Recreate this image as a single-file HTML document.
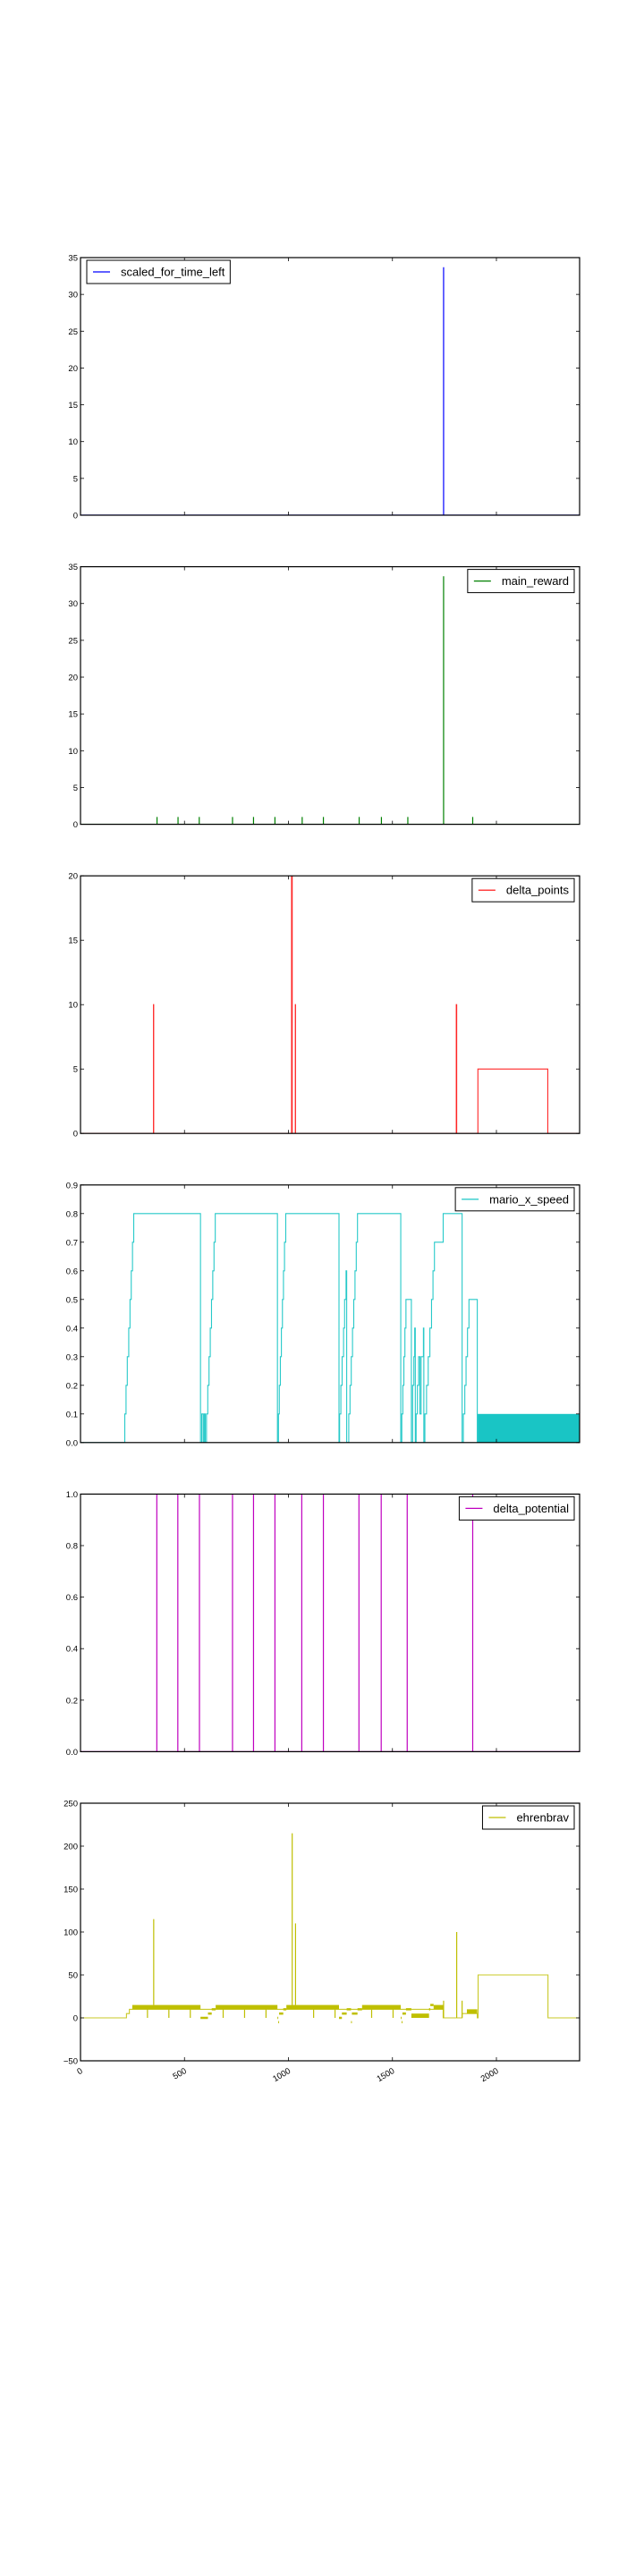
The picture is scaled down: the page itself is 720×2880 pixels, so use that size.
<!DOCTYPE html>
<html><head><meta charset="utf-8">
<style>
html,body{margin:0;padding:0;background:#fff;}
svg{display:block;font-family:"Liberation Sans","DejaVu Sans",sans-serif;}
</style></head>
<body>
<svg id="fig" width="720" height="2880" viewBox="0 0 720 2880" xmlns="http://www.w3.org/2000/svg"></svg>
<script>
// ---- data ----
const xMax = 2400;
const xTicks = [0, 500, 1000, 1500, 2000];
const xTickLabels = ["0", "500", "1000", "1500", "2000"];

const timeLeftSpikeX = [1746];
const timeLeftSpikeY = [33.7];

const rewardSpikeX = [368, 469, 571, 731, 832, 935, 1066, 1168, 1340, 1447, 1574, 1746, 1886];
const rewardSpikeY = [1, 1, 1, 1, 1, 1, 1, 1, 1, 1, 1, 33.7, 1];

// step-post series: value holds from x until next x
const pointsStepX = [0, 351, 352, 1015, 1018, 1033, 1034, 1807, 1809, 1911, 2247, 2400];
const pointsStepY = [0, 10, 0, 20, 0, 10, 0, 10, 0, 5, 0, 0];

const speedStepX = [0,213,219,225,232,238,244,250,256,577,583,590,595,600,606,612,618,624,630,636,642,648,947,952,956,961,966,971,976,981,987,1243,1246,1252,1258,1265,1270,1277,1280,1290,1296,1302,1308,1314,1320,1326,1332,1338,1540,1545,1550,1555,1560,1565,1591,1597,1603,1607,1610,1614,1620,1626,1632,1638,1649,1651,1656,1664,1672,1680,1688,1695,1702,1744,1835,1841,1848,1854,1861,1868,1908];
const speedStepY = [0,0.1,0.2,0.3,0.4,0.5,0.6,0.7,0.8,0,0.1,0,0.1,0,0.1,0.2,0.3,0.4,0.5,0.6,0.7,0.8,0,0.1,0.2,0.3,0.4,0.5,0.6,0.7,0.8,0,0.1,0.2,0.3,0.4,0.5,0.6,0,0.1,0.2,0.3,0.4,0.5,0.6,0.7,0.8,0.8,0,0.1,0.2,0.3,0.4,0.5,0,0.2,0.3,0.4,0,0.1,0.2,0.3,0.1,0.3,0.4,0,0.1,0.2,0.3,0.4,0.5,0.6,0.7,0.8,0,0.1,0.2,0.3,0.4,0.5,0];
const speedOscStart = [1910];
const speedOscEnd = [2398];
const speedOscValue = [0.1];

const potentialSpikeX = [367, 468, 572, 731, 832, 935, 1064, 1168, 1339, 1446, 1571, 1886];
const potentialSpikeY = [1, 1, 1, 1, 1, 1, 1, 1, 1, 1, 1, 1];

const ehrenStepX = [0, 221, 235, 249, 1744, 1835, 1908, 1912, 2248, 2400];
const ehrenStepY = [0, 5, 10, 10, 0, 5, 0, 50, 0, 0];
const bandStart = [249, 650, 990, 1354, 1698, 1858, 1591];
const bandEnd = [577, 947, 1243, 1540, 1744, 1908, 1676];
const bandLo = [10, 10, 10, 10, 10, 5, 0];
const bandHi = [15, 15, 15, 15, 15, 10, 5];
const lowStepX = [577, 613, 631, 947, 951, 955, 975, 1243, 1257, 1280, 1301, 1305, 1332, 1540, 1544, 1548, 1565, 1676, 1682];
const lowStepEnd = [613, 631, 650, 951, 955, 975, 990, 1257, 1280, 1301, 1305, 1332, 1354, 1544, 1548, 1565, 1591, 1682, 1698];
const lowStepY = [0, 5, 10, 0, -5, 5, 10, 0, 5, 10, -5, 5, 10, 0, -5, 5, 10, 10, 15];
const ehrenSpikeX = [352, 1018, 1034, 1746, 1809, 1835, 322, 425, 528, 686, 789, 892, 1121, 1224, 1400, 1503];
const ehrenSpikeY = [115, 215, 110, 20, 100, 20, 0, 0, 0, 0, 0, 0, 0, 0, 0, 0];
const ehrenSpikeBase = [15, 15, 15, 0, 0, 0, 10, 10, 10, 10, 10, 10, 10, 10, 10, 10];

const panelNames = ["scaled_for_time_left", "main_reward", "delta_points", "mario_x_speed", "delta_potential", "ehrenbrav"];
const panelYMin = [0, 0, 0, 0, 0, -50];
const panelYMax = [35, 35, 20, 0.9, 1.0, 250];
const panelYTicks = [
  [0,5,10,15,20,25,30,35],
  [0,5,10,15,20,25,30,35],
  [0,5,10,15,20],
  [0,0.1,0.2,0.3,0.4,0.5,0.6,0.7,0.8,0.9],
  [0,0.2,0.4,0.6,0.8,1.0],
  [-50,0,50,100,150,200,250]
];
const panelTickDigits = [0,0,0,1,1,0];
const panelColors = ["#0000ff", "#008000", "#ff0000", "#00bfbf", "#bf00bf", "#bfbf00"];
const panelLegendLeft = [true, false, false, false, false, false];

// ---- layout ----
const NS = "http://www.w3.org/2000/svg";
const svg = document.getElementById("fig");
const L = 90, R = 648, H = 288, TOP0 = 288, STEP = 345.6;

function mk(tag, attrs, parent) {
  const e = document.createElementNS(NS, tag);
  for (const k in attrs) e.setAttribute(k, attrs[k]);
  (parent || svg).appendChild(e);
  return e;
}
function xs(v) { return L + v / xMax * (R - L); }

for (let p = 0; p < 6; p++) {
  const top = TOP0 + p * STEP, bot = top + H;
  const ymin = panelYMin[p], ymax = panelYMax[p];
  const ys = v => bot - (v - ymin) / (ymax - ymin) * H;
  const col = panelColors[p];
  const g = mk("g", {});
  
  
  const clipId = "clip" + p;
  const cp = mk("clipPath", {id: clipId}, g);
  mk("rect", {x: L, y: top, width: R - L, height: H}, cp);
  const plot = mk("g", {"clip-path": "url(#" + clipId + ")"}, g);
  
  

  function spikes(xsArr, ysArr, base) {
    for (let i = 0; i < xsArr.length; i++) {
      const b = base ? base[i] : 0;
      const ln = mk("line", {x1: xs(xsArr[i]), x2: xs(xsArr[i]), y1: ys(b), y2: ys(ysArr[i]), stroke: col, "stroke-width": 1.2}, plot);
      
      
    }
  }
  function baseline() {
    const ln = mk("line", {x1: L, x2: R, y1: ys(0), y2: ys(0), stroke: col, "stroke-width": 1.5, opacity: 0.6}, plot);
    
    
  }
  function stepLine(xa, ya) {
    let pts = [];
    for (let i = 0; i < xa.length; i++) {
      const nx = i + 1 < xa.length ? xa[i + 1] : xMax;
      pts.push(xs(xa[i]).toFixed(2) + "," + ys(ya[i]).toFixed(2));
      pts.push(xs(nx).toFixed(2) + "," + ys(ya[i]).toFixed(2));
    }
    const pl = mk("polyline", {points: pts.join(" "), fill: "none", stroke: col, "stroke-width": 1.1, opacity: 0.85}, plot);
    
    
  }

  if (p === 0) { baseline(); spikes(timeLeftSpikeX, timeLeftSpikeY); }
  if (p === 1) { baseline(); spikes(rewardSpikeX, rewardSpikeY); }
  if (p === 2) { stepLine(pointsStepX, pointsStepY); }
  if (p === 3) {
    stepLine(speedStepX, speedStepY);
    for (let i = 0; i < speedOscStart.length; i++) {
      const r = mk("rect", {x: xs(speedOscStart[i]), y: ys(speedOscValue[i]), width: xs(speedOscEnd[i]) - xs(speedOscStart[i]), height: ys(0) - ys(speedOscValue[i]), fill: col, opacity: 0.9}, plot);
      
      
    }
  }
  if (p === 4) { baseline(); spikes(potentialSpikeX, potentialSpikeY); }
  if (p === 5) {
    stepLine(ehrenStepX, ehrenStepY);
    for (let i = 0; i < bandStart.length; i++) {
      const r = mk("rect", {x: xs(bandStart[i]), y: ys(bandHi[i]), width: xs(bandEnd[i]) - xs(bandStart[i]), height: ys(bandLo[i]) - ys(bandHi[i]), fill: col}, plot);
      
      
    }
    for (let i = 0; i < lowStepX.length; i++) {
      const ln = mk("line", {x1: xs(lowStepX[i]), x2: xs(lowStepEnd[i]), y1: ys(lowStepY[i]), y2: ys(lowStepY[i]), stroke: col, "stroke-width": 2.5}, plot);
      
      
    }
    spikes(ehrenSpikeX, ehrenSpikeY, ehrenSpikeBase);
  }

  const fr = mk("rect", {x: L, y: top, width: R - L, height: H, fill: "none", stroke: "#000", "stroke-width": 1.2}, g);
  
  

  for (let i = 0; i < xTicks.length; i++) {
    const x = xs(xTicks[i]);
    mk("line", {x1: x, x2: x, y1: bot, y2: bot - 4, stroke: "#000", "stroke-width": 0.8}, g);
    mk("line", {x1: x, x2: x, y1: top, y2: top + 4, stroke: "#000", "stroke-width": 0.8}, g);
    if (p === 5) {
      const t = mk("text", {x: x + 3, y: bot + 13, "font-size": 9.5, fill: "#000", "text-anchor": "end", transform: "rotate(-30 " + (x + 3) + " " + (bot + 13) + ")"}, g);
      t.textContent = xTickLabels[i];
      
      
    }
  }
  const yt = panelYTicks[p];
  for (let i = 0; i < yt.length; i++) {
    const y = ys(yt[i]);
    mk("line", {x1: L, x2: L + 4, y1: y, y2: y, stroke: "#000", "stroke-width": 0.8}, g);
    mk("line", {x1: R, x2: R - 4, y1: y, y2: y, stroke: "#000", "stroke-width": 0.8}, g);
    const t = mk("text", {x: L - 3, y: y + 3.5, "font-size": 9.5, fill: "#000", "text-anchor": "end"}, g);
    t.textContent = yt[i].toFixed(panelTickDigits[p]).replace("-", "\u2212");
    
    
  }

  const lg = mk("g", {}, g);
  
  
  const tt = mk("text", {x: 0, y: 0, "font-size": 13, fill: "#000"}, lg);
  tt.textContent = panelNames[p];
  
  
  const tw = tt.getComputedTextLength();
  const bw = 38 + tw + 6, bh = 26;
  const bx = panelLegendLeft[p] ? L + 7 : R - 6 - bw;
  const by = top + 3;
  const box = mk("rect", {x: bx, y: by, width: bw, height: bh, fill: "#fff", stroke: "#000", "stroke-width": 1}, lg);
  
  
  lg.appendChild(tt);
  tt.setAttribute("x", bx + 38);
  tt.setAttribute("y", by + 17.5);
  const sw = mk("line", {x1: bx + 7, x2: bx + 26, y1: by + 13, y2: by + 13, stroke: col, "stroke-width": 1.2}, lg);
  
  
}
</script>
</body></html>
